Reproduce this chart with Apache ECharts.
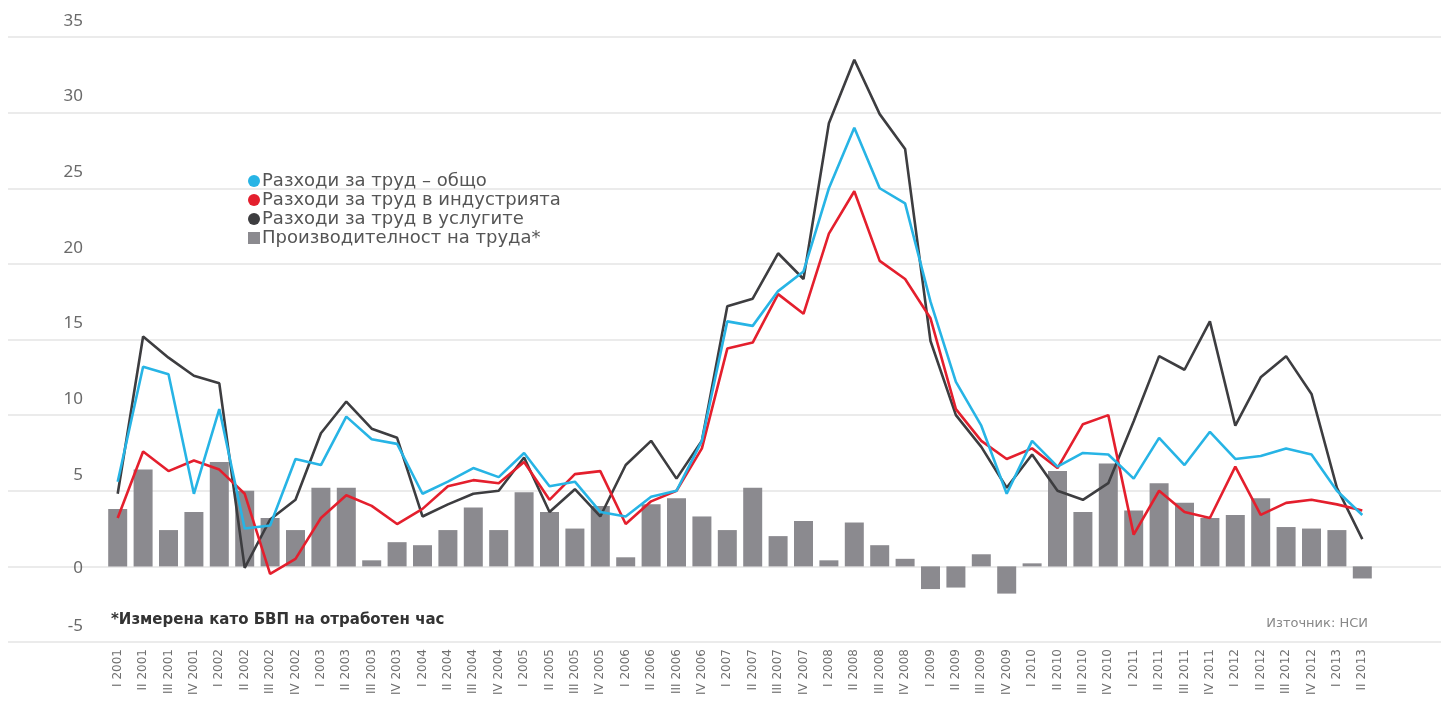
<!DOCTYPE html>
<html>
<head>
<meta charset="utf-8">
<script src="https://cdn.jsdelivr.net/npm/echarts@6/dist/echarts.min.js"></script>
<style>
html,body{margin:0;padding:0;background:#fff;}
#c{width:1441px;height:706px;}
</style>
</head>
<body>
<div id="c"></div>
<script>
const categories = [
 'I 2001','II 2001','III 2001','IV 2001',
 'I 2002','II 2002','III 2002','IV 2002',
 'I 2003','II 2003','III 2003','IV 2003',
 'I 2004','II 2004','III 2004','IV 2004',
 'I 2005','II 2005','III 2005','IV 2005',
 'I 2006','II 2006','III 2006','IV 2006',
 'I 2007','II 2007','III 2007','IV 2007',
 'I 2008','II 2008','III 2008','IV 2008',
 'I 2009','II 2009','III 2009','IV 2009',
 'I 2010','II 2010','III 2010','IV 2010',
 'I 2011','II 2011','III 2011','IV 2011',
 'I 2012','II 2012','III 2012','IV 2012',
 'I 2013','II 2013'
];
const seriesNames = [
 'Разходи за труд – общо',
 'Разходи за труд в индустрията',
 'Разходи за труд в услугите',
 'Производителност на труда*'
];
const laborTotal = [5.6,13.2,12.7,4.8, 10.4,2.5,2.7,7.1, 6.7,9.9,8.4,8.1, 4.8,5.6,6.5,5.9,
 7.5,5.3,5.6,3.6, 3.3,4.6,5.0,8.3, 16.2,15.9,18.2,19.5, 25.0,29.0,25.0,24.0,
 17.5,12.2,9.3,4.8, 8.3,6.6,7.5,7.4, 5.8,8.5,6.7,8.9, 7.1,7.3,7.8,7.4, 5.0,3.4];
const laborIndustry = [3.2,7.6,6.3,7.0, 6.4,4.8,-0.5,0.5, 3.2,4.7,4.0,2.8, 3.8,5.3,5.7,5.5,
 6.9,4.4,6.1,6.3, 2.8,4.3,5.0,7.8, 14.4,14.8,18.0,16.7, 22.0,24.8,20.2,19.0,
 16.4,10.4,8.3,7.1, 7.8,6.5,9.4,10.0, 2.1,5.0,3.6,3.2, 6.6,3.4,4.2,4.4, 4.1,3.7];
const laborServices = [4.8,15.2,13.8,12.6, 12.1,-0.1,3.1,4.4, 8.8,10.9,9.1,8.5, 3.3,4.1,4.8,5.0,
 7.2,3.6,5.1,3.3, 6.7,8.3,5.8,8.3, 17.2,17.7,20.7,19.0, 29.3,33.5,29.9,27.6,
 14.9,10.0,7.9,5.2, 7.4,5.0,4.4,5.5, 9.6,13.9,13.0,16.2, 9.3,12.5,13.9,11.4, 5.2,1.8];
const productivity = [3.8,6.4,2.4,3.6, 6.9,5.0,3.2,2.4, 5.2,5.2,0.4,1.6, 1.4,2.4,3.9,2.4,
 4.9,3.6,2.5,4.0, 0.6,4.1,4.5,3.3, 2.4,5.2,2.0,3.0, 0.4,2.9,1.4,0.5,
 -1.5,-1.4,0.8,-1.8, 0.2,6.3,3.6,6.8, 3.7,5.5,4.2,3.2, 3.4,4.5,2.6,2.5, 2.4,-0.8];
const yMin = -5, yMax = 35, yStep = 5;
const footnote = '*Измерена като БВП на отработен час';
const sourceText = 'Източник: НСИ';

const FONT = '"Noto Sans", sans-serif';
const WIDE = '"DejaVu Sans", sans-serif';
const C_TOTAL = '#27b4e5', C_IND = '#e41f2d', C_SERV = '#3d3d40', C_BAR = '#8b8a8f';

const chart = echarts.init(document.getElementById('c'), null, {renderer:'canvas'});
chart.setOption({
  animation: false,
  backgroundColor: '#fff',
  textStyle: {fontFamily: FONT},
  grid: [
    {left: 8, right: 0, top: 37, bottom: 64},
    {left: 105, right: 66, top: 37, bottom: 64}
  ],
  xAxis: [
    {gridIndex: 0, type: 'value', show: false, min: 0, max: 1},
    {gridIndex: 1, type: 'category', data: categories, boundaryGap: true,
     axisLine: {show: false}, axisTick: {show: false}, splitLine: {show: false},
     axisLabel: {rotate: 90, interval: 0, margin: 7, fontSize: 12, color: '#707070', fontFamily: WIDE}}
  ],
  yAxis: [
    {gridIndex: 0, type: 'value', min: yMin, max: yMax, interval: yStep,
     axisLine: {show: false}, axisTick: {show: false},
     splitLine: {show: true, lineStyle: {color: '#ebebeb', width: 2}},
     axisLabel: {inside: true, margin: 75, align: 'right', verticalAlign: 'middle',
       formatter: v => v === 0 ? '{z|0}' : '{n|' + v + '}',
       rich: {
         n: {fontSize: 17, color: '#6a6a6a', fontFamily: FONT, padding: [0,0,32,0]},
         z: {fontSize: 17, color: '#6a6a6a', fontFamily: FONT, padding: [4,0,0,0]}
       }}},
    {gridIndex: 1, type: 'value', min: yMin, max: yMax, interval: yStep, show: false,
     splitLine: {show: false}}
  ],
  legend: {
    orient: 'vertical', left: 243, top: 167, itemWidth: 12, itemHeight: 12, itemGap: 1,
    textStyle: {fontSize: 18, color: '#555', fontFamily: WIDE, lineHeight: 16, padding: [0,0,0,-3]},
    data: [
      {name: seriesNames[0], icon: 'circle'},
      {name: seriesNames[1], icon: 'circle'},
      {name: seriesNames[2], icon: 'circle'},
      {name: seriesNames[3], icon: 'rect'}
    ]
  },
  series: [
    {name: seriesNames[3], type: 'bar', xAxisIndex: 1, yAxisIndex: 1, data: productivity,
     barWidth: 19, itemStyle: {color: C_BAR}},
    {name: seriesNames[2], type: 'line', xAxisIndex: 1, yAxisIndex: 1, data: laborServices,
     symbol: 'none', lineStyle: {color: C_SERV, width: 2.6}, itemStyle: {color: C_SERV}},
    {name: seriesNames[1], type: 'line', xAxisIndex: 1, yAxisIndex: 1, data: laborIndustry,
     symbol: 'none', lineStyle: {color: C_IND, width: 2.6}, itemStyle: {color: C_IND}},
    {name: seriesNames[0], type: 'line', xAxisIndex: 1, yAxisIndex: 1, data: laborTotal,
     symbol: 'none', lineStyle: {color: C_TOTAL, width: 2.6}, itemStyle: {color: C_TOTAL}}
  ],
  graphic: [
    {type: 'text', left: 111, top: 613, style: {text: footnote, fill: '#333', font: 'bold 15px ' + WIDE}},
    {type: 'text', right: 73, top: 617, style: {text: sourceText, fill: '#888', font: '13px ' + WIDE}}
  ]
});
</script>
</body>
</html>
